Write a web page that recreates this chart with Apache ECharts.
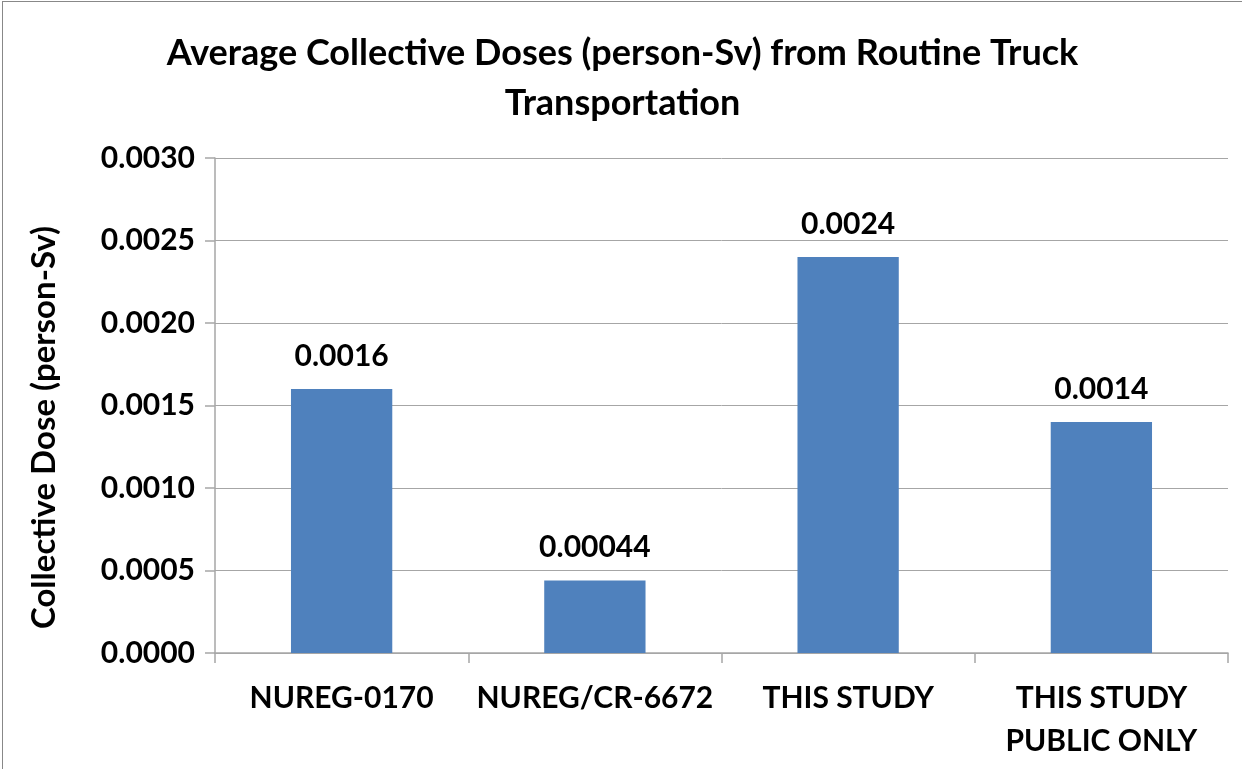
<!DOCTYPE html>
<html><head><meta charset="utf-8">
<script src="https://cdn.jsdelivr.net/npm/echarts@6/dist/echarts.min.js"></script>
<style>
html,body{margin:0;padding:0;background:#fff;}
#c{position:absolute;left:2px;top:1px;width:1240px;height:768px;border-left:1px solid #888;border-top:1px solid #888;box-sizing:border-box;}
</style></head>
<body><div id="c"></div>
<script>
const categories = ["NUREG-0170", "NUREG/CR-6672", "THIS STUDY", "THIS STUDY\nPUBLIC ONLY"];
const doses = [0.0016, 0.00044, 0.0024, 0.0014];
const doseLabels = ["0.0016", "0.00044", "0.0024", "0.0014"];
const titleText = "Average Collective Doses (person-Sv) from Routine Truck\nTransportation";
const yAxisName = "Collective Dose (person-Sv)";

const FONT = "Lato";
const chart = echarts.init(document.getElementById('c'));
chart.setOption({
  animation: false,
  title: {
    text: titleText, left: 'center', top: 21,
    textStyle: {fontFamily: FONT, fontWeight: 'bold', fontSize: 36, color: '#000', lineHeight: 50}
  },
  grid: {left: 212, right: 14, top: 156, bottom: 116, containLabel: false},
  xAxis: {
    type: 'category', data: categories,
    axisLine: {lineStyle: {color: '#a6a6a6', width: 1.5}},
    axisTick: {show: true, length: 10, alignWithLabel: false, lineStyle: {color: '#a6a6a6', width: 1.5}},
    axisLabel: {fontFamily: FONT, fontWeight: 'bold', fontSize: 30, color: '#000', margin: 24, lineHeight: 43, interval: 0}
  },
  yAxis: {
    type: 'value', min: 0, max: 0.003, interval: 0.0005,
    name: yAxisName, nameLocation: 'middle', nameGap: 154,
    nameTextStyle: {fontFamily: FONT, fontWeight: 'bold', fontSize: 33, color: '#000', padding: [0, 44, 0, 0]},
    axisLine: {show: true, lineStyle: {color: '#a6a6a6', width: 1.5}},
    axisTick: {show: true, length: 10, lineStyle: {color: '#a6a6a6', width: 1.5}},
    splitLine: {show: true, lineStyle: {color: '#a6a6a6', width: 1}},
    axisLabel: {fontFamily: FONT, fontWeight: 'bold', fontSize: 30, color: '#000', margin: 20,
      formatter: v => v.toFixed(4)}
  },
  series: [{
    type: 'bar', data: doses, barWidth: '40%',
    itemStyle: {color: '#4F81BD'},
    label: {show: true, position: 'top', distance: 18, fontFamily: FONT, fontWeight: 'bold', fontSize: 30, color: '#000',
      formatter: p => doseLabels[p.dataIndex]}
  }]
});
</script></body></html>
